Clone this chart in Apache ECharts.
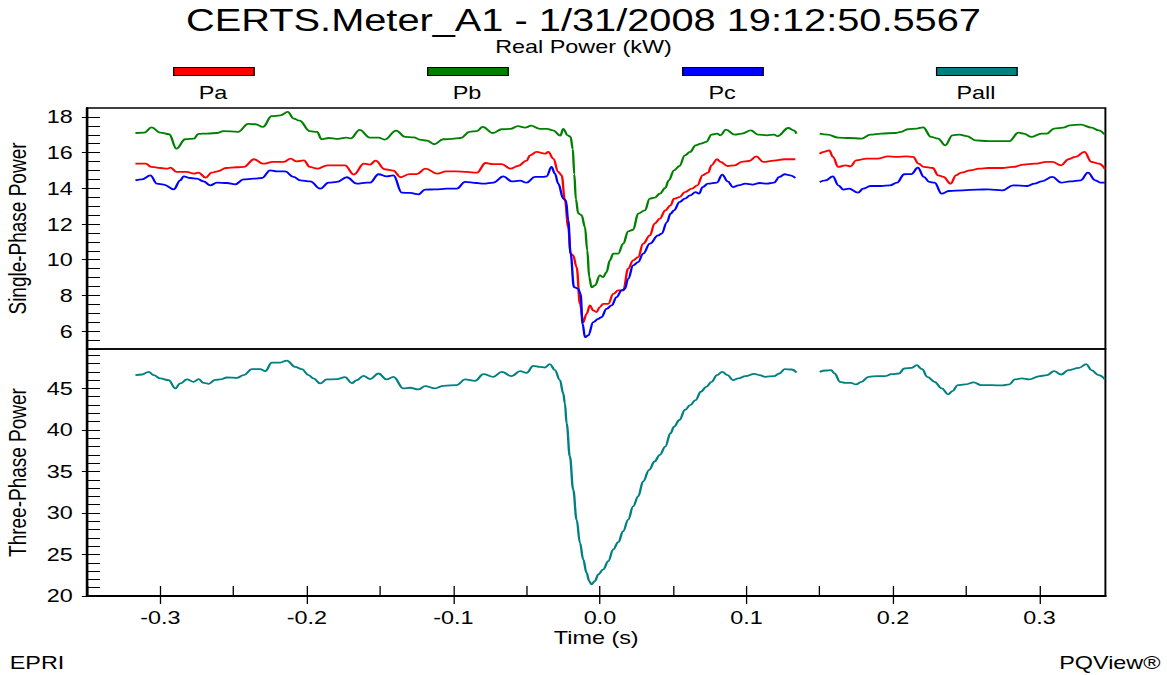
<!DOCTYPE html>
<html>
<head>
<meta charset="utf-8">
<script src="https://cdn.jsdelivr.net/npm/echarts@6.0.0/dist/echarts.min.js"></script>
<style>
html,body{margin:0;padding:0;background:#fff;overflow:hidden;width:1167px;height:675px;}
#c{width:898px;height:675px;transform:scaleX(1.29955);transform-origin:0 0;}
</style>
</head>
<body>
<div id="c"></div>
<script>
// ---------- DATA (time in s, power in kW) ----------
const GAP = 0.142;
const paT = [-0.317,-0.310,-0.306,-0.300,-0.295,-0.293,-0.289,-0.282,-0.277,-0.274,-0.269,-0.265,-0.261,-0.255,-0.248,-0.243,-0.236,-0.230,-0.223,-0.216,-0.211,-0.207,-0.202,-0.198,-0.193,-0.186,-0.180,-0.174,-0.168,-0.161,-0.157,-0.153,-0.147,-0.141,-0.136,-0.130,-0.125,-0.119,-0.111,-0.105,-0.098,-0.091,-0.084,-0.078,-0.073,-0.067,-0.061,-0.056,-0.050,-0.0477,-0.0432,-0.0375,-0.0352,-0.0318,-0.0284,-0.0261,-0.0239,-0.0216,-0.0200,-0.0182,-0.0159,-0.0136,-0.0114,-0.0091,-0.0068,-0.0045,-0.0023,0.0,0.0023,0.0057,0.0091,0.0125,0.0159,0.0193,0.0227,0.0261,0.0295,0.0341,0.0373,0.0409,0.0446,0.0482,0.0506,0.0543,0.058,0.0628,0.0665,0.0701,0.0738,0.0762,0.0799,0.0823,0.0872,0.092,0.0969,0.1018,0.1067,0.1115,0.1188,0.1261,0.1334,GAP,0.1499,0.1529,0.1566,0.159,0.1627,0.1675,0.1712,0.1748,0.1821,0.1894,0.1967,0.2028,0.2089,0.2138,0.2174,0.2211,0.2272,0.2308,0.2345,0.2394,0.243,0.2467,0.2528,0.2588,0.2649,0.2747,0.282,0.2893,0.2966,0.3051,0.3088,0.3148,0.3197,0.3246,0.3307,0.3355,0.3404,0.3446];
const paV = [15.38,15.38,15.20,15.14,15.10,15.16,14.92,14.92,14.82,14.88,14.60,14.88,14.95,15.14,15.18,15.20,15.63,15.38,15.48,15.48,15.66,15.51,15.57,15.20,15.10,15.29,15.29,15.29,14.77,15.38,15.33,15.55,15.07,14.99,14.62,14.80,14.80,15.10,14.82,14.95,14.95,14.92,14.88,15.42,15.36,15.36,15.10,15.25,15.55,15.85,16.04,15.94,16.04,15.66,14.92,14.73,13.33,11.83,10.34,10.24,9.59,7.53,6.50,6.97,7.44,7.16,7.07,7.35,7.53,7.53,8.09,8.28,8.28,9.50,9.96,10.15,10.90,11.36,12.02,12.30,12.77,13.05,13.42,13.51,13.79,13.98,14.17,14.73,14.88,15.29,15.63,15.48,15.25,15.29,15.48,15.53,15.79,15.48,15.55,15.63,15.63,null,15.94,16.04,16.13,15.76,15.20,15.29,15.23,15.57,15.66,15.66,15.79,15.76,15.79,15.76,15.38,15.20,15.14,14.73,14.64,14.26,14.73,14.88,15.01,15.10,15.14,15.14,15.20,15.33,15.38,15.48,15.48,15.29,15.63,15.76,16.04,15.48,15.38,15.10];

const pbT = [-0.317,-0.311,-0.306,-0.300,-0.294,-0.289,-0.283,-0.277,-0.274,-0.268,-0.261,-0.257,-0.247,-0.240,-0.235,-0.230,-0.224,-0.218,-0.213,-0.209,-0.205,-0.198,-0.193,-0.190,-0.185,-0.180,-0.173,-0.170,-0.164,-0.157,-0.151,-0.147,-0.139,-0.133,-0.127,-0.123,-0.118,-0.113,-0.107,-0.101,-0.095,-0.089,-0.084,-0.080,-0.073,-0.067,-0.061,-0.056,-0.051,-0.047,-0.041,-0.036,-0.032,-0.027,-0.025,-0.022,-0.020,-0.0185,-0.0175,-0.0164,-0.0148,-0.0125,-0.0102,-0.0086,-0.0073,-0.0057,-0.0034,0.0,0.0023,0.0045,0.0068,0.0091,0.0125,0.0159,0.0193,0.0227,0.0261,0.0307,0.034,0.0373,0.0409,0.0446,0.047,0.0506,0.0543,0.058,0.0616,0.0653,0.0689,0.0726,0.0762,0.0799,0.0823,0.086,0.092,0.0969,0.103,0.1079,0.114,0.1188,0.1213,0.1286,0.1322,0.1342,GAP,0.150,0.1554,0.1627,0.170,0.1785,0.1846,0.1919,0.2016,0.2053,0.2101,0.2162,0.2206,0.226,0.2308,0.2357,0.2406,0.2455,0.2503,0.2564,0.2649,0.2722,0.2795,0.2856,0.2893,0.2942,0.3015,0.3051,0.31,0.3161,0.3209,0.3282,0.3355,0.3404,0.3446];
const pbV = [17.10,17.12,17.42,17.12,17.03,16.22,16.75,16.79,17.05,17.07,17.10,17.21,17.16,17.61,17.59,17.44,18.04,18.09,18.28,17.91,17.79,17.20,17.16,16.75,16.82,16.77,16.84,16.80,17.27,16.84,16.84,16.73,17.23,16.88,16.86,16.73,16.67,16.47,16.75,16.77,16.82,17.16,17.21,17.44,17.10,17.31,17.33,17.48,17.40,17.51,17.33,17.33,17.25,16.95,17.33,16.97,16.88,16.2,14.8,13.4,12.6,12.5,11.83,10.52,9.03,8.45,8.56,9.12,9.03,9.31,9.96,10.34,10.34,10.90,11.59,11.68,12.58,12.77,13.42,13.48,13.70,14.02,14.45,15.01,15.25,15.85,16.04,16.41,16.50,16.60,17.01,17.07,16.97,17.29,17.01,17.07,17.25,17.01,16.97,17.01,16.93,17.38,17.25,17.07,null,17.07,17.01,16.84,16.82,16.79,17.01,17.07,17.10,17.16,17.31,17.35,17.42,16.88,16.79,16.41,16.97,17.01,16.93,16.69,16.64,16.64,16.65,17.12,17.07,16.88,17.07,17.07,17.35,17.40,17.53,17.57,17.40,17.25,17.01];

const pcT = [-0.317,-0.3125,-0.3068,-0.3023,-0.2977,-0.2909,-0.2864,-0.2841,-0.2795,-0.275,-0.2705,-0.2659,-0.2614,-0.2545,-0.2489,-0.2432,-0.2364,-0.2307,-0.2250,-0.2205,-0.2148,-0.2091,-0.2045,-0.1977,-0.1909,-0.1852,-0.1795,-0.1727,-0.1659,-0.1591,-0.1568,-0.1511,-0.1455,-0.1409,-0.1352,-0.1295,-0.1239,-0.1193,-0.1125,-0.1045,-0.0977,-0.092,-0.0841,-0.0795,-0.0727,-0.0659,-0.0602,-0.0545,-0.05,-0.0443,-0.0386,-0.0364,-0.033,-0.0307,-0.0284,-0.025,-0.0232,-0.0216,-0.020,-0.0177,-0.0148,-0.0132,-0.0118,-0.0102,-0.008,-0.0045,-0.0011,0.0011,0.0045,0.008,0.0114,0.0148,0.017,0.0193,0.0227,0.0261,0.0295,0.0341,0.0397,0.0421,0.0458,0.0482,0.0506,0.0543,0.058,0.0616,0.0653,0.0677,0.0701,0.0738,0.0799,0.0835,0.0872,0.0908,0.0945,0.0994,0.1042,0.1091,0.114,0.1188,0.1225,0.1261,0.1298,0.1334,GAP,0.150,0.1541,0.159,0.1627,0.1663,0.17,0.1761,0.1797,0.1846,0.1919,0.198,0.2028,0.2077,0.2126,0.217,0.2211,0.2248,0.2284,0.2333,0.2381,0.2479,0.2576,0.2649,0.2747,0.282,0.2917,0.2966,0.3015,0.3088,0.3148,0.3209,0.3282,0.3331,0.338,0.3416,0.3446];
const pcV = [14.45,14.50,14.73,14.26,14.21,13.94,14.45,14.67,14.58,14.54,14.39,14.17,14.32,14.30,14.22,14.50,14.54,14.58,15.01,14.95,14.95,14.64,14.45,14.39,13.98,14.32,14.36,14.62,14.26,14.32,14.32,14.79,14.67,14.73,13.76,13.74,13.66,13.93,13.94,13.98,13.98,14.36,14.30,14.26,14.32,14.67,14.39,14.43,14.32,14.64,14.64,14.67,15.20,14.82,14.26,13.42,13.33,12.21,10.34,8.47,8.37,8.09,6.41,5.66,5.76,6.50,6.69,6.79,7.25,7.44,7.91,8.28,8.37,8.93,9.68,9.87,10.34,10.90,11.36,11.46,12.11,12.58,12.77,13.23,13.42,13.61,13.79,13.70,14.07,14.26,14.32,14.77,14.39,14.07,14.17,14.26,14.21,14.30,14.26,14.32,14.64,14.79,14.73,14.58,null,14.36,14.45,14.67,14.17,13.93,13.98,13.76,13.98,14.13,14.13,14.17,14.32,14.79,14.80,15.16,14.64,14.36,14.32,13.70,13.85,13.89,13.93,13.94,13.89,14.17,14.13,14.26,14.39,14.64,14.32,14.39,14.45,14.88,14.45,14.32,14.32];

const pallT = [-0.317,-0.3125,-0.308,-0.3045,-0.300,-0.2943,-0.2898,-0.2864,-0.2818,-0.2773,-0.2739,-0.2705,-0.267,-0.2625,-0.2591,-0.2545,-0.2477,-0.2432,-0.2375,-0.2318,-0.2284,-0.2239,-0.2182,-0.2136,-0.208,-0.2034,-0.1989,-0.1955,-0.1909,-0.1864,-0.1795,-0.1739,-0.1693,-0.1659,-0.1614,-0.1568,-0.1511,-0.1455,-0.1409,-0.1341,-0.1295,-0.1239,-0.1193,-0.1125,-0.1068,-0.0977,-0.092,-0.0852,-0.0795,-0.0727,-0.067,-0.0602,-0.0545,-0.05,-0.0455,-0.0409,-0.0375,-0.0341,-0.0307,-0.0273,-0.025,-0.0239,-0.0227,-0.0205,-0.0182,-0.0159,-0.0136,-0.0114,-0.0091,-0.0073,-0.0057,-0.0034,-0.0011,0.0023,0.0057,0.0091,0.0125,0.0159,0.0193,0.0227,0.0261,0.0295,0.0336,0.0373,0.0409,0.0446,0.0482,0.0506,0.0543,0.058,0.0616,0.0653,0.0689,0.0726,0.0762,0.0799,0.0835,0.0872,0.0908,0.0945,0.0994,0.1054,0.1091,0.1127,0.1188,0.1225,0.1261,0.131,0.1342,GAP,0.150,0.1541,0.1578,0.1602,0.1639,0.1675,0.1712,0.1748,0.1785,0.1834,0.1894,0.1943,0.1992,0.2041,0.2077,0.2126,0.2162,0.2199,0.2235,0.2284,0.2333,0.2377,0.2406,0.2442,0.2491,0.2552,0.2601,0.2674,0.2747,0.2795,0.2832,0.2881,0.2929,0.3002,0.3051,0.31,0.3148,0.3197,0.327,0.3319,0.3355,0.3404,0.3446];
const pallV = [46.6,46.68,47.0,46.6,46.2,46.0,45.0,45.6,46.08,45.8,46.12,45.68,45.56,46.04,46.08,46.32,46.28,46.6,47.32,47.32,47.08,48.12,48.12,48.36,47.6,47.32,46.6,46.2,45.6,46.08,46.12,46.36,45.64,46.0,46.52,46.12,46.8,46.08,46.4,45.0,45.08,44.88,45.28,45.0,45.32,45.4,46.08,45.92,46.72,46.4,47.0,46.48,47.08,46.88,47.72,47.6,47.52,47.92,47.2,46.0,44.4,43.2,40.8,36.8,32.8,29.2,26.4,24.4,22.8,21.8,21.4,21.8,22.6,23.2,24.2,25.6,26.48,27.8,29.2,30.8,32.0,33.8,35.2,36.2,37.0,38.0,39.6,40.4,41.2,42.4,43.0,43.6,44.6,45.2,45.8,46.6,47.0,46.6,46.0,46.2,46.48,46.76,46.6,46.4,46.48,46.8,47.32,47.28,46.92,null,47.0,47.16,47.2,46.8,45.8,45.68,45.68,45.48,45.8,46.4,46.48,46.48,46.72,46.8,47.4,47.48,47.8,47.32,46.4,45.8,45.0,44.28,44.68,45.4,45.48,45.72,45.4,45.4,45.36,45.48,46.08,46.2,46.08,46.48,46.6,47.08,46.68,47.2,47.48,47.92,47.2,46.6,46.12];

const seriesNames = ['Pa','Pb','Pc','Pall'];
const seriesColors = ['#ff0000','#008000','#0000ff','#008080'];
const xTickLabels = [-0.3,-0.2,-0.1,0,0.1,0.2,0.3];
const yTopTickLabels = [6,8,10,12,14,16,18];
const yBotTickLabels = [20,25,30,35,40,45];

// ---------- helpers ----------
function pts(t, v){ return t.map((x,i)=>[x, v[i]]); }
function steps(a,b,s){ const r=[]; for(let k=0; a+k*s<=b+1e-9; k++) r.push(+(a+k*s).toFixed(4)); return r; }

const FONT = 'Liberation Sans, Arial, Helvetica, sans-serif';
const X_MIN = -0.35, X_MAX = 0.345;
const TOP_MIN = 5, TOP_MAX = 18.5, BOT_MIN = 20, BOT_MAX = 49.75;
const txt = (size)=>({color:'#000', fontFamily:FONT, fontSize:size, fontWeight:'normal'});

const chart = echarts.init(document.getElementById('c'), null, {renderer:'svg', width:898, height:675});

const gridBase = {left:67, right:47.4, show:true, borderColor:'#000', borderWidth:1.5, backgroundColor:'transparent', containLabel:false, outerBoundsMode:'none'};

const legendLefts = [133.1, 328.6, 524.8, 720.2];
const legendCenters = [163.9, 359.3, 555.6, 751.0];

const option = {
  animation:false,
  backgroundColor:'#fff',
  title:[
    {text:'CERTS.Meter_A1 - 1/31/2008 19:12:50.5567', left:'center', top:5.5, padding:0, textStyle:txt(30.6)},
    {text:'Real Power (kW)', left:'center', top:38, padding:0, textStyle:txt(18)},
    {text:'EPRI', left:7.5, top:654, padding:0, textStyle:txt(18)},
    {text:'PQView®', right:5, top:654, padding:0, textStyle:txt(18)}
  ],
  legend: seriesNames.map((n,i)=>({
    data:[n], left:legendLefts[i], top:67, padding:0, icon:'rect', itemWidth:62, itemHeight:8,
    itemStyle:{borderColor:'#000', borderWidth:1}, formatter:()=>'', selectedMode:false,
    textStyle:{fontSize:1}
  })),
  graphic: seriesNames.map((n,i)=>({
    type:'text', x:legendCenters[i], y:93, silent:true,
    style:{text:n, fill:'#000', fontFamily:FONT, fontSize:18, align:'center', verticalAlign:'middle'}
  })),
  grid:[
    Object.assign({}, gridBase, {top:108, height:241}),
    Object.assign({}, gridBase, {top:349, height:247})
  ],
  xAxis:[
    {type:'value', gridIndex:0, min:X_MIN, max:X_MAX, show:false},
    {type:'value', gridIndex:1, min:X_MIN, max:X_MAX, position:'bottom',
      axisLine:{show:true, onZero:false, lineStyle:{color:'#000', width:2}},
      axisTick:{show:true, inside:true, length:10, customValues:steps(-0.35,0.30,0.05), lineStyle:{color:'#000', width:1}},
      axisLabel:{show:false}, splitLine:{show:false}},
    {type:'value', gridIndex:1, min:X_MIN, max:X_MAX, position:'bottom',
      axisLine:{show:false, onZero:false},
      axisTick:{show:true, inside:false, length:8, customValues:xTickLabels, lineStyle:{color:'#000', width:1}},
      axisLabel:{show:true, customValues:xTickLabels, margin:13, formatter:(v)=>v.toFixed(1), ...txt(18)},
      splitLine:{show:false},
      name:'Time (s)', nameLocation:'middle', nameGap:33, nameTextStyle:txt(18)}
  ],
  yAxis:[
    {type:'value', gridIndex:0, min:TOP_MIN, max:TOP_MAX, position:'left',
      axisLine:{show:true, onZero:false, lineStyle:{color:'#000', width:2}},
      axisTick:{show:true, inside:true, length:10, customValues:steps(5,18,0.5), lineStyle:{color:'#000', width:1}},
      axisLabel:{show:false}, splitLine:{show:false}},
    {type:'value', gridIndex:0, min:TOP_MIN, max:TOP_MAX, position:'left',
      axisLine:{show:false, onZero:false},
      axisTick:{show:true, inside:false, length:4, customValues:yTopTickLabels, lineStyle:{color:'#000', width:1}},
      axisLabel:{show:true, customValues:yTopTickLabels, margin:11, ...txt(18)},
      splitLine:{show:false},
      name:'Single-Phase Power', nameLocation:'middle', nameGap:44, nameTextStyle:txt(19)},
    {type:'value', gridIndex:1, min:BOT_MIN, max:BOT_MAX, position:'left',
      axisLine:{show:true, onZero:false, lineStyle:{color:'#000', width:2}},
      axisTick:{show:true, inside:true, length:10, customValues:steps(20,49,1), lineStyle:{color:'#000', width:1}},
      axisLabel:{show:false}, splitLine:{show:false}},
    {type:'value', gridIndex:1, min:BOT_MIN, max:BOT_MAX, position:'left',
      axisLine:{show:false, onZero:false},
      axisTick:{show:true, inside:false, length:4, customValues:yBotTickLabels, lineStyle:{color:'#000', width:1}},
      axisLabel:{show:true, customValues:yBotTickLabels, margin:11, ...txt(18)},
      splitLine:{show:false},
      name:'Three-Phase Power', nameLocation:'middle', nameGap:44, nameTextStyle:txt(19)}
  ],
  series:[
    [paT, paV, 0, 0], [pbT, pbV, 0, 0], [pcT, pcV, 0, 0], [pallT, pallV, 1, 2]
  ].map((s,i)=>({
    type:'line', name:seriesNames[i], xAxisIndex:s[2], yAxisIndex:s[3],
    data:pts(s[0], s[1]), showSymbol:false, symbol:'none', connectNulls:false,
    smooth:0.4, smoothMonotone:'x',
    lineStyle:{color:seriesColors[i], width:1.8}, itemStyle:{color:seriesColors[i]},
    clip:true
  }))
};
chart.setOption(option);
</script>
</body>
</html>
